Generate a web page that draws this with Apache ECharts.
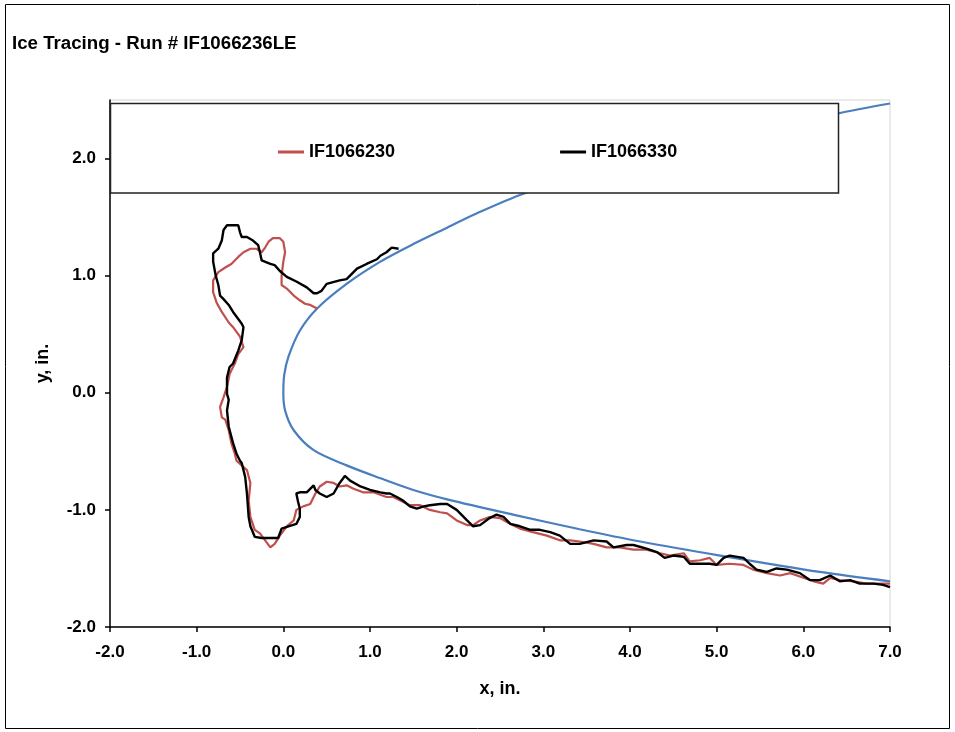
<!DOCTYPE html>
<html>
<head>
<meta charset="utf-8">
<script src="https://cdn.jsdelivr.net/npm/echarts@6/dist/echarts.min.js"></script>
<style>
html,body{margin:0;padding:0;background:#fff;}
#chart{width:955px;height:732px;}
</style>
</head>
<body>
<div id="chart"></div>
<script>
// ---- Data ----
const titleText = 'Ice Tracing - Run # IF1066236LE';
const seriesNames = ['IF1066230', 'IF1066330'];
const xTicks = [-2, -1, 0, 1, 2, 3, 4, 5, 6, 7];
const yTicks = [-2, -1, 0, 1, 2];

// clean airfoil leading edge (blue)
const cleanX = [7.0, 6.4, 5.5, 4.5, 3.5, 2.77, 2.27, 1.89, 1.5, 1.12, 0.73, 0.39, 0.19, 0.06, 0.01, 0.0, 0.02, 0.12, 0.35, 0.73, 1.12, 1.5, 1.89, 2.65, 3.42, 4.12, 5.04, 6.19, 7.0];
const cleanY = [2.47, 2.385, 2.22, 2.06, 1.87, 1.70, 1.545, 1.41, 1.27, 1.12, 0.93, 0.72, 0.53, 0.31, 0.15, 0.0, -0.15, -0.32, -0.49, -0.62, -0.73, -0.83, -0.91, -1.04, -1.165, -1.27, -1.39, -1.53, -1.61];

// IF1066230 (red)
const redX = [0.39,0.31,0.25,0.19,0.12,0.04,-0.02,-0.02,0.00,0.02,
  0.00,-0.04,-0.12,-0.17,-0.21,-0.25,-0.31,-0.38,-0.46,-0.52,
  -0.60,-0.67,-0.75,-0.81,-0.81,-0.77,-0.71,-0.63,-0.58,-0.50,
  -0.46,-0.52,-0.56,-0.62,-0.65,-0.69,-0.73,-0.71,-0.67,-0.63,
  -0.60,-0.56,-0.54,-0.42,-0.38,-0.40,-0.38,-0.33,-0.27,-0.21,
  -0.15,-0.10,-0.04,0.04,0.12,0.15,0.23,0.31,0.37,0.42,
  0.50,0.58,0.65,0.73,0.81,0.92,1.04,1.19,1.27,1.35,
  1.46,1.58,1.69,1.81,1.89,2.00,2.12,2.19,2.27,2.38,
  2.50,2.62,2.73,2.88,3.04,3.19,3.31,3.42,3.58,3.73,
  3.88,4.04,4.19,4.35,4.46,4.62,4.69,4.81,4.92,5.00,
  5.15,5.31,5.42,5.58,5.73,5.85,6.00,6.12,6.23,6.31,
  6.42,6.58,6.73,6.88,7.00];
const redY = [0.72,0.75,0.76,0.79,0.83,0.89,0.92,1.00,1.12,1.20,
  1.29,1.32,1.32,1.29,1.24,1.20,1.23,1.23,1.20,1.16,
  1.10,1.07,1.03,0.96,0.86,0.77,0.69,0.60,0.56,0.48,
  0.39,0.33,0.25,0.16,0.05,-0.04,-0.12,-0.21,-0.23,-0.32,
  -0.43,-0.52,-0.58,-0.66,-0.77,-0.92,-1.06,-1.17,-1.20,-1.26,
  -1.32,-1.29,-1.22,-1.14,-1.09,-1.00,-0.97,-0.95,-0.86,-0.80,
  -0.76,-0.77,-0.80,-0.79,-0.82,-0.85,-0.85,-0.89,-0.89,-0.92,
  -0.96,-0.96,-1.00,-1.02,-1.03,-1.09,-1.13,-1.13,-1.09,-1.06,
  -1.07,-1.12,-1.16,-1.19,-1.22,-1.26,-1.26,-1.27,-1.29,-1.32,
  -1.32,-1.34,-1.34,-1.37,-1.39,-1.37,-1.44,-1.43,-1.41,-1.47,
  -1.46,-1.47,-1.51,-1.54,-1.56,-1.54,-1.58,-1.61,-1.63,-1.58,
  -1.60,-1.61,-1.63,-1.63,-1.63];

// IF1066330 (black)
const blackX = [1.33,1.25,1.19,1.12,1.08,0.96,0.85,0.73,0.65,0.50,
  0.44,0.39,0.35,0.27,0.15,0.04,-0.04,-0.10,-0.15,-0.25,
  -0.27,-0.29,-0.35,-0.42,-0.48,-0.50,-0.52,-0.58,-0.65,-0.69,
  -0.71,-0.75,-0.81,-0.81,-0.78,-0.75,-0.73,-0.69,-0.63,-0.58,
  -0.52,-0.48,-0.46,-0.48,-0.52,-0.58,-0.62,-0.65,-0.65,-0.63,
  -0.65,-0.63,-0.58,-0.54,-0.50,-0.48,-0.44,-0.42,-0.40,-0.38,
  -0.33,-0.25,-0.06,-0.02,0.06,0.15,0.19,0.19,0.17,0.15,
  0.19,0.27,0.31,0.35,0.37,0.42,0.50,0.58,0.65,0.71,
  0.77,0.89,1.00,1.12,1.19,1.23,1.31,1.38,1.46,1.54,
  1.62,1.69,1.81,1.89,2.00,2.12,2.19,2.27,2.38,2.46,
  2.54,2.62,2.73,2.85,2.96,3.08,3.19,3.31,3.42,3.58,
  3.73,3.81,3.96,4.04,4.19,4.31,4.40,4.50,4.62,4.69,
  4.81,4.92,5.00,5.08,5.15,5.31,5.38,5.46,5.58,5.69,
  5.81,5.96,6.08,6.19,6.31,6.42,6.54,6.65,6.81,6.92,
  7.00];
const blackY = [1.23,1.24,1.20,1.17,1.14,1.10,1.06,0.97,0.96,0.93,
  0.87,0.85,0.85,0.90,0.95,0.99,1.04,1.09,1.10,1.13,
  1.20,1.26,1.30,1.33,1.33,1.37,1.43,1.43,1.43,1.39,
  1.30,1.23,1.19,1.12,1.00,0.92,0.83,0.80,0.75,0.69,
  0.63,0.59,0.56,0.45,0.36,0.25,0.22,0.13,-0.01,-0.06,
  -0.15,-0.29,-0.43,-0.52,-0.58,-0.60,-0.72,-0.86,-1.06,-1.14,
  -1.23,-1.24,-1.24,-1.16,-1.14,-1.12,-1.06,-0.99,-0.93,-0.86,
  -0.85,-0.85,-0.82,-0.79,-0.83,-0.86,-0.89,-0.86,-0.77,-0.71,
  -0.75,-0.80,-0.83,-0.85,-0.86,-0.86,-0.89,-0.92,-0.97,-0.99,
  -0.97,-0.96,-0.95,-0.95,-1.00,-1.09,-1.14,-1.13,-1.07,-1.04,
  -1.06,-1.12,-1.14,-1.17,-1.17,-1.19,-1.22,-1.29,-1.29,-1.26,
  -1.27,-1.32,-1.30,-1.30,-1.33,-1.36,-1.41,-1.39,-1.40,-1.46,
  -1.46,-1.46,-1.47,-1.41,-1.39,-1.41,-1.46,-1.51,-1.53,-1.50,
  -1.51,-1.54,-1.60,-1.60,-1.56,-1.61,-1.60,-1.63,-1.63,-1.64,
  -1.66];

// ---- Chart ----
function zip(xs, ys) {
  const n = Math.min(xs.length, ys.length);
  const out = [];
  for (let i = 0; i < n; i++) out.push([xs[i], ys[i]]);
  return out;
}
const FONT = '"Liberation Sans", Arial, Helvetica, sans-serif';
const labelStyle = { fontFamily: FONT, fontWeight: 'bold', fontSize: 17, color: '#000' };

const chart = echarts.init(document.getElementById('chart'), null, { renderer: 'canvas' });
chart.setOption({
  animation: false,
  backgroundColor: '#ffffff',
  title: {
    text: titleText, left: 7, top: 29,
    textStyle: { fontFamily: FONT, fontWeight: 'bold', fontSize: 18.7, color: '#000' }
  },
  grid: {
    left: 110, top: 100, width: 780, height: 527,
    show: true, borderColor: '#d4d4d4', borderWidth: 1, backgroundColor: 'transparent'
  },
  legend: {
    data: seriesNames, left: 278, top: 143, padding: 0,
    icon: 'rect', itemWidth: 26, itemHeight: 3, itemGap: 165,
    selectedMode: false, z: 10,
    textStyle: { fontFamily: FONT, fontWeight: 'bold', fontSize: 18, color: '#000' }
  },
  xAxis: {
    type: 'value', min: -2, max: 7, interval: 1,
    name: 'x, in.', nameLocation: 'middle', nameGap: 53,
    nameTextStyle: { fontFamily: FONT, fontWeight: 'bold', fontSize: 18, color: '#000' },
    axisLine: { onZero: false, lineStyle: { color: '#000', width: 1.5 } },
    axisTick: { show: true, length: 5, lineStyle: { color: '#000', width: 1.5 } },
    axisLabel: Object.assign({ margin: 17, formatter: v => v.toFixed(1) }, labelStyle),
    splitLine: { show: false }
  },
  yAxis: {
    type: 'value', min: -2, max: 2.5, interval: 1,
    name: 'y, in.', nameLocation: 'middle', nameGap: 58, nameRotate: 90,
    nameTextStyle: { fontFamily: FONT, fontWeight: 'bold', fontSize: 18, color: '#000' },
    axisLine: { onZero: false, lineStyle: { color: '#000', width: 1.5 } },
    axisTick: { show: true, length: 5, customValues: yTicks, lineStyle: { color: '#000', width: 1.5 } },
    axisLabel: Object.assign({ margin: 14, customValues: yTicks, formatter: v => v.toFixed(1) }, labelStyle),
    splitLine: { show: false }
  },
  graphic: [
    {
      type: 'rect', z: 100, silent: true,
      shape: { x: 5.5, y: 4.5, width: 944, height: 724 },
      style: { fill: null, stroke: '#000', lineWidth: 1 }
    },
    {
      type: 'rect', z: 5, silent: true,
      shape: { x: 110.5, y: 103.5, width: 728, height: 89.5 },
      style: { fill: '#fff', stroke: '#222', lineWidth: 1.5 }
    }
  ],
  series: [
    {
      name: 'clean', type: 'line', data: zip(cleanX, cleanY),
      showSymbol: false, symbol: 'none', smooth: 0.3, z: 2, silent: true,
      lineStyle: { color: '#4a7ebf', width: 2.2 }
    },
    {
      name: seriesNames[0], type: 'line', data: zip(redX, redY),
      showSymbol: false, symbol: 'none', z: 3, silent: true,
      color: '#c0504d',
      lineStyle: { color: '#c0504d', width: 2.2 }
    },
    {
      name: seriesNames[1], type: 'line', data: zip(blackX, blackY),
      showSymbol: false, symbol: 'none', z: 4, silent: true,
      color: '#000',
      lineStyle: { color: '#000', width: 2.4 }
    }
  ]
});
</script>
</body>
</html>
